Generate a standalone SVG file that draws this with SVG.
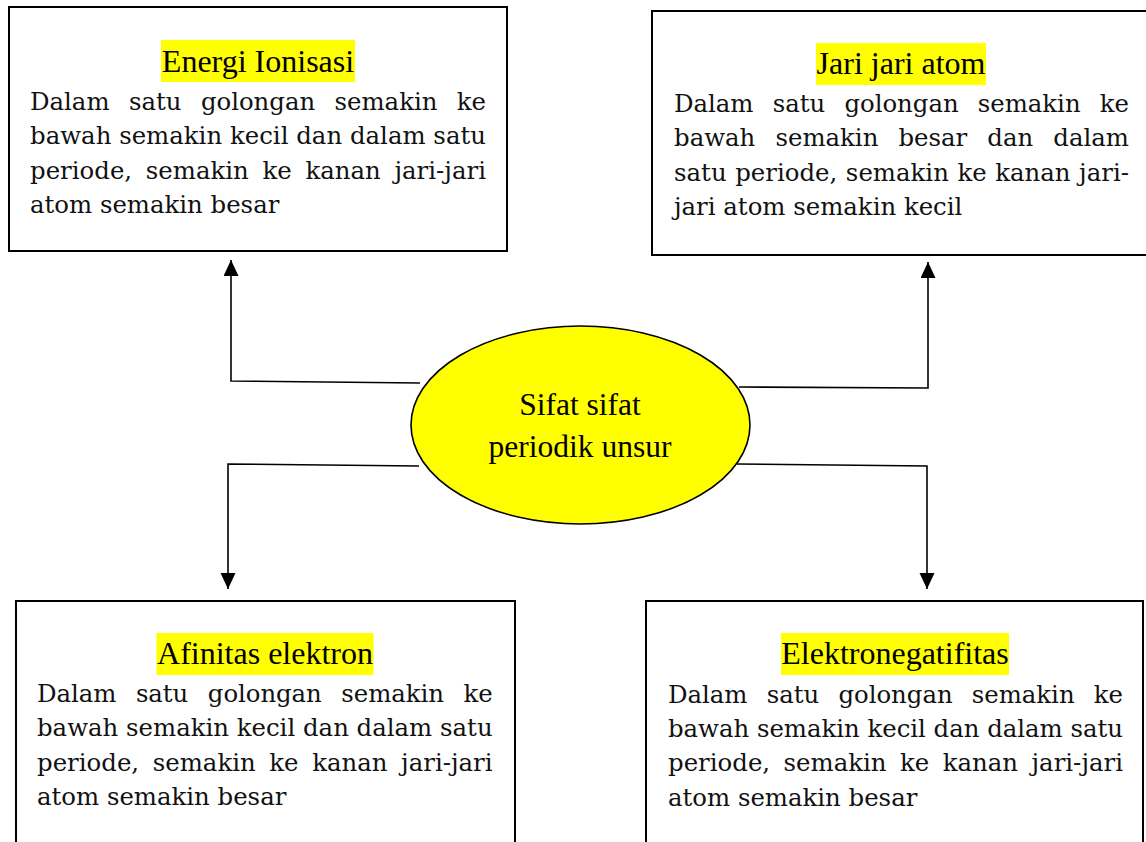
<svg xmlns="http://www.w3.org/2000/svg" width="1146" height="842" viewBox="0 0 1146 842">
<style>
.box{fill:#fff;stroke:#000;stroke-width:2}
.hl{fill:#ffff00}
.title{font-family:"Liberation Serif","Times New Roman",serif;font-size:32px;fill:#000;text-anchor:middle}
.body{font-family:"DejaVu Serif",serif;font-size:24.4px;fill:#111}
.conn{fill:none;stroke:#000;stroke-width:1.6}
.center{font-family:"Liberation Serif","Times New Roman",serif;font-size:31.5px;fill:#000;text-anchor:middle}
</style>
<defs>
<marker id="arr" markerUnits="userSpaceOnUse" markerWidth="16" markerHeight="16" refX="16" refY="7.5" orient="auto">
<path d="M0,0 L16,7.5 L0,15 z" fill="#000"/>
</marker>
</defs>
<rect width="1146" height="842" fill="#fff"/>

<g id="connectors">
<path class="conn" d="M420,383 L231,381 L231,260" marker-end="url(#arr)"/>
<path class="conn" d="M739,387 L928,388 L928,262" marker-end="url(#arr)"/>
<path class="conn" d="M419,466 L228,464 L228,589" marker-end="url(#arr)"/>
<path class="conn" d="M737,464 L927,466 L927,589" marker-end="url(#arr)"/>
</g>

<g id="center">
<ellipse cx="580.5" cy="425" rx="169.5" ry="99" fill="#ffff00" stroke="#000" stroke-width="1.6"/>
<text class="center" x="580" y="415">Sifat sifat</text>
<text class="center" x="580" y="457">periodik unsur</text>
</g>

<g id="energi-ionisasi">
<rect class="box" x="9" y="7" width="498" height="244"/>
<rect class="hl" x="161" y="40" width="194" height="42"/>
<text class="title" x="258" y="72">Energi Ionisasi</text>
<text class="body" x="30" y="110" word-spacing="11.7" textLength="456" lengthAdjust="spacing">Dalam satu golongan semakin ke</text>
<text class="body" x="30" y="144.3" textLength="456" lengthAdjust="spacing">bawah semakin kecil dan dalam satu</text>
<text class="body" x="30" y="178.6" word-spacing="5.9" textLength="456" lengthAdjust="spacing">periode, semakin ke kanan jari-jari</text>
<text class="body" x="30" y="212.8">atom semakin besar</text>
</g>

<g id="jari-jari-atom">
<rect class="box" x="652" y="11" width="500" height="244"/>
<rect class="hl" x="816" y="43" width="170" height="42"/>
<text class="title" x="901" y="74">Jari jari atom</text>
<text class="body" x="674" y="112" word-spacing="11.5" textLength="455" lengthAdjust="spacing">Dalam satu golongan semakin ke</text>
<text class="body" x="674" y="146.4" word-spacing="12.3" textLength="455" lengthAdjust="spacing">bawah semakin besar dan dalam</text>
<text class="body" x="674" y="180.8" word-spacing="0.8" textLength="455" lengthAdjust="spacing">satu periode, semakin ke kanan jari-</text>
<text class="body" x="674" y="215">jari atom semakin kecil</text>
</g>

<g id="afinitas-elektron">
<rect class="box" x="16" y="601" width="499" height="260"/>
<rect class="hl" x="156.5" y="633" width="217" height="42"/>
<text class="title" x="265" y="664">Afinitas elektron</text>
<text class="body" x="37" y="702" word-spacing="11.9" textLength="455.6" lengthAdjust="spacing">Dalam satu golongan semakin ke</text>
<text class="body" x="37" y="736.4" textLength="455.6" lengthAdjust="spacing">bawah semakin kecil dan dalam satu</text>
<text class="body" x="37" y="770.8" word-spacing="5.8" textLength="455.6" lengthAdjust="spacing">periode, semakin ke kanan jari-jari</text>
<text class="body" x="37" y="805">atom semakin besar</text>
</g>

<g id="elektronegatifitas">
<rect class="box" x="646" y="601" width="497" height="260"/>
<rect class="hl" x="781" y="633" width="228" height="42"/>
<text class="title" x="895" y="664">Elektronegatifitas</text>
<text class="body" x="668" y="703" word-spacing="11.5" textLength="455" lengthAdjust="spacing">Dalam satu golongan semakin ke</text>
<text class="body" x="668" y="737.2" textLength="455" lengthAdjust="spacing">bawah semakin kecil dan dalam satu</text>
<text class="body" x="668" y="771.4" word-spacing="5.7" textLength="455" lengthAdjust="spacing">periode, semakin ke kanan jari-jari</text>
<text class="body" x="668" y="805.5">atom semakin besar</text>
</g>
</svg>
